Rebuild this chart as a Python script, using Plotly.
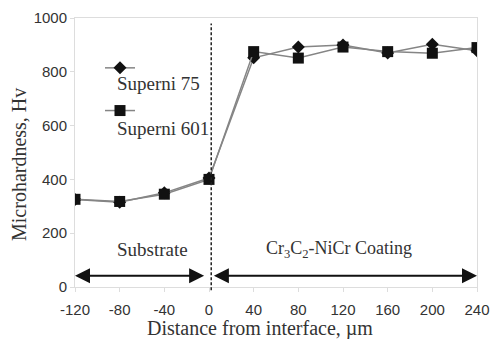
import plotly.graph_objects as go

distance = [-120, -80, -40, 0, 40, 80, 120, 160, 200, 240]
superni_75 = [325, 315, 350, 405, 852, 892, 900, 870, 902, 878]
superni_601 = [326, 318, 345, 400, 875, 851, 892, 875, 869, 890]
x_ticks = [-120, -80, -40, 0, 40, 80, 120, 160, 200, 240]
x_ticktext = ["-120", "-80", "-40", "0", "40", "80", "120", "160", "200", "240"]
y_ticks = [0, 200, 400, 600, 800, 1000]

serif = "Liberation Serif, Times New Roman, serif"
sans = "Liberation Sans, Arial, sans-serif"

# plot-area geometry (pixels)
L, R, T, B = 75, 17, 18, 52
W, H = 494 - L - R, 339 - T - B


def px_to_paper(px, py):
    return (px - L) / W, 1 - (py - T) / H


fig = go.Figure()
fig.add_trace(go.Scatter(
    x=distance, y=superni_75, mode="lines+markers", name="&nbsp;",
    line=dict(color="#858585", width=1.5),
    marker=dict(symbol="diamond", size=10, color="#111111"),
    legendgroup="a"))
fig.add_trace(go.Scatter(
    x=distance, y=superni_601, mode="lines+markers", name="&nbsp;",
    line=dict(color="#858585", width=1.5),
    marker=dict(symbol="square", size=11, color="#111111"),
    legendgroup="b"))

# interface line
fig.add_shape(type="line", x0=2, x1=2, y0=-0.012, y1=0.98, xref="x", yref="paper",
              line=dict(color="#222222", width=1.5, dash="3px,2px"))

# region arrows
arrow_y = 42
fig.add_annotation(x=-120, y=arrow_y, ax=-3, ay=arrow_y, xref="x", yref="y", axref="x", ayref="y",
                   text="", showarrow=True, arrowhead=2, startarrowhead=2, arrowside="end+start",
                   arrowsize=1.5, arrowwidth=2, arrowcolor="#111111")
fig.add_annotation(x=240, y=arrow_y, ax=3, ay=arrow_y, xref="x", yref="y", axref="x", ayref="y",
                   text="", showarrow=True, arrowhead=2, startarrowhead=2, arrowside="end+start",
                   arrowsize=1.5, arrowwidth=2, arrowcolor="#111111")

fig.add_annotation(x=-51, y=141, text="Substrate", showarrow=False,
                   font=dict(family=serif, size=19, color="#333333"))
fig.add_annotation(x=116.5, y=141, text="Cr<sub>3</sub>C<sub>2</sub>-NiCr Coating", showarrow=False,
                   font=dict(family=serif, size=18, color="#333333"))

# legend text
lx, ly = px_to_paper(115, 83)
fig.add_annotation(x=lx, y=ly, xref="paper", yref="paper", text="Superni 75", showarrow=False,
                   xanchor="left", yanchor="middle", font=dict(family=serif, size=19, color="#333333"))
lx, ly = px_to_paper(115, 128)
fig.add_annotation(x=lx, y=ly, xref="paper", yref="paper", text="Superni 601", showarrow=False,
                   xanchor="left", yanchor="middle", font=dict(family=serif, size=19, color="#333333"))

# axis titles
tx, ty = px_to_paper(260, 328)
fig.add_annotation(x=tx, y=ty, xref="paper", yref="paper", text="Distance from interface, µm",
                   showarrow=False, xanchor="center", yanchor="middle",
                   font=dict(family=serif, size=20, color="#333333"))
tx, ty = px_to_paper(19, 165)
fig.add_annotation(x=tx, y=ty, xref="paper", yref="paper", text="Microhardness, Hv",
                   showarrow=False, xanchor="center", yanchor="middle", textangle=-90,
                   font=dict(family=serif, size=20, color="#333333"))

gx, gy = px_to_paper(100, 49)
fig.update_layout(
    width=494, height=339,
    margin=dict(l=L, r=R, t=T, b=B),
    paper_bgcolor="white", plot_bgcolor="white",
    showlegend=True,
    legend=dict(x=gx, y=gy, xanchor="left", yanchor="top", bgcolor="rgba(0,0,0,0)",
                font=dict(family=serif, size=19), tracegroupgap=15, itemwidth=30),
    xaxis=dict(range=[-120, 240], tickvals=x_ticks, ticktext=x_ticktext, showgrid=False, zeroline=False,
               showline=True, linecolor="#dddddd", mirror=True, ticks="outside", ticklen=4,
               tickcolor="#dddddd", ticklabelstandoff=5, automargin=False,
               tickfont=dict(family=sans, size=15, color="#333333")),
    yaxis=dict(range=[0, 1000], tickvals=y_ticks, showgrid=False, zeroline=False,
               showline=True, linecolor="#dddddd", mirror=True, ticks="outside", ticklen=4,
               tickcolor="#dddddd", automargin=False,
               tickfont=dict(family=sans, size=15, color="#333333")),
)

fig.write_html("out.html")
